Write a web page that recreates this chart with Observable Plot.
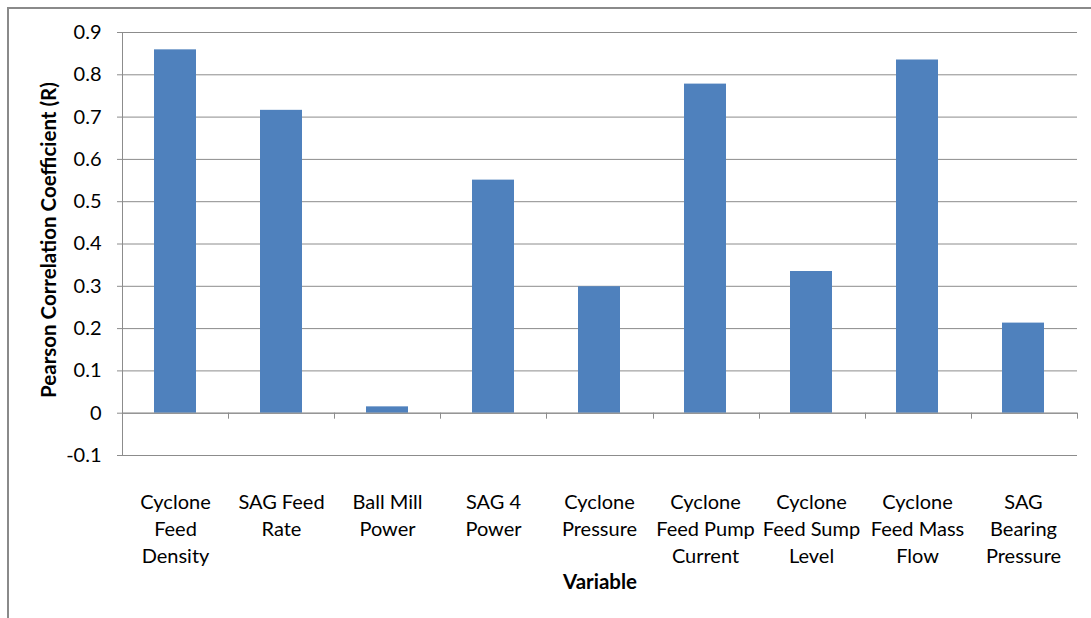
<!DOCTYPE html>
<html>
<head>
<meta charset="utf-8">
<script src="https://cdn.jsdelivr.net/npm/d3@7"></script>
<script src="https://cdn.jsdelivr.net/npm/@observablehq/plot@0.6"></script>
<style>
  html, body { margin: 0; padding: 0; background: #fff; }
  #wrap { position: relative; width: 1091px; height: 618px; overflow: hidden; }
  #border {
    position: absolute; left: 7px; top: 7px; width: 1100px; height: 700px;
    border: 2px solid #8a8a8a; pointer-events: none; box-sizing: border-box;
  }
</style>
</head>
<body>
<div id="wrap"><div id="border"></div></div>
<script>
// Pearson correlation of each process variable with the target
const categories = [
  "Cyclone Feed Density",
  "SAG Feed Rate",
  "Ball Mill Power",
  "SAG 4 Power",
  "Cyclone Pressure",
  "Cyclone Feed Pump Current",
  "Cyclone Feed Sump Level",
  "Cyclone Feed Mass Flow",
  "SAG Bearing Pressure"
];
// wrapped category labels as shown under the axis
const categoryLabels = [
  "Cyclone\nFeed\nDensity",
  "SAG Feed\nRate",
  "Ball Mill\nPower",
  "SAG 4\nPower",
  "Cyclone\nPressure",
  "Cyclone\nFeed Pump\nCurrent",
  "Cyclone\nFeed Sump\nLevel",
  "Cyclone\nFeed Mass\nFlow",
  "SAG\nBearing\nPressure"
];
const rValues = [0.859, 0.716, 0.015, 0.551, 0.299, 0.778, 0.335, 0.835, 0.213];
const yTicks = [-0.1, 0, 0.1, 0.2, 0.3, 0.4, 0.5, 0.6, 0.7, 0.8, 0.9];
const yLabel = "Pearson Correlation Coefficient (R)";
const xLabel = "Variable";

const data = categories.map((name, i) => ({name, r: rValues[i]}));
const labelOf = new Map(categories.map((c, i) => [c, categoryLabels[i]]));

const axisColor = "#8c8c8c";
const font = "Lato, 'Open Sans', sans-serif";

// vertical value axis line plus the category boundary ticks below the zero line
function categoryAxis(index, scales, values, dimensions) {
  const {width, marginLeft, marginRight} = dimensions;
  const yTop = scales.y(d3.max(yTicks));
  const yBot = scales.y(d3.min(yTicks));
  const y0 = scales.y(0);
  const step = (width - marginLeft - marginRight) / categories.length;
  const g = d3.create("svg:g").attr("stroke", axisColor).attr("stroke-width", 1);
  g.append("line")
    .attr("x1", marginLeft + 0.5).attr("x2", marginLeft + 0.5)
    .attr("y1", yTop).attr("y2", yBot);
  for (let k = 0; k <= categories.length; ++k) {
    const x = Math.round(marginLeft + k * step) + 0.5;
    g.append("line").attr("x1", x).attr("x2", x).attr("y1", y0).attr("y2", y0 + 6);
  }
  return g.node();
}

const chart = Plot.plot({
  width: 1091,
  height: 618,
  marginLeft: 122,
  marginRight: 14,
  marginTop: 32,
  marginBottom: 163,
  style: {fontFamily: font, fontSize: "20px", color: "#000", background: "transparent"},
  x: {type: "band", domain: categories, paddingInner: 0.6, paddingOuter: 0.3},
  y: {domain: [d3.min(yTicks), d3.max(yTicks)]},
  marks: [
    Plot.gridY(yTicks, {stroke: axisColor, strokeOpacity: 1}),
    Plot.barY(data, {x: "name", y: "r", fill: "#4F81BD"}),
    Plot.ruleY([0], {stroke: axisColor}),
    categoryAxis,
    Plot.axisY(yTicks, {
      tickSize: 5, tickPadding: 16, stroke: axisColor, fill: "#000",
      fontSize: 20, label: null,
      tickFormat: d => String(+d.toFixed(1))
    }),
    Plot.axisX({
      tickSize: 0, tickPadding: 35, fill: "#000", fontSize: 20, lineHeight: 1.33,
      label: null, tickFormat: d => labelOf.get(d)
    }),
    Plot.text([yLabel], {
      frameAnchor: "left", textAnchor: "middle", rotate: -90, dx: -73, dy: -4,
      text: d => d, fontSize: 20.5, fontWeight: "bold", fill: "#000"
    }),
    Plot.text([xLabel], {
      frameAnchor: "bottom", dy: 133, text: d => d,
      fontSize: 20.5, fontWeight: "bold", fill: "#000"
    })
  ]
});

document.getElementById("wrap").prepend(chart);
</script>
</body>
</html>
